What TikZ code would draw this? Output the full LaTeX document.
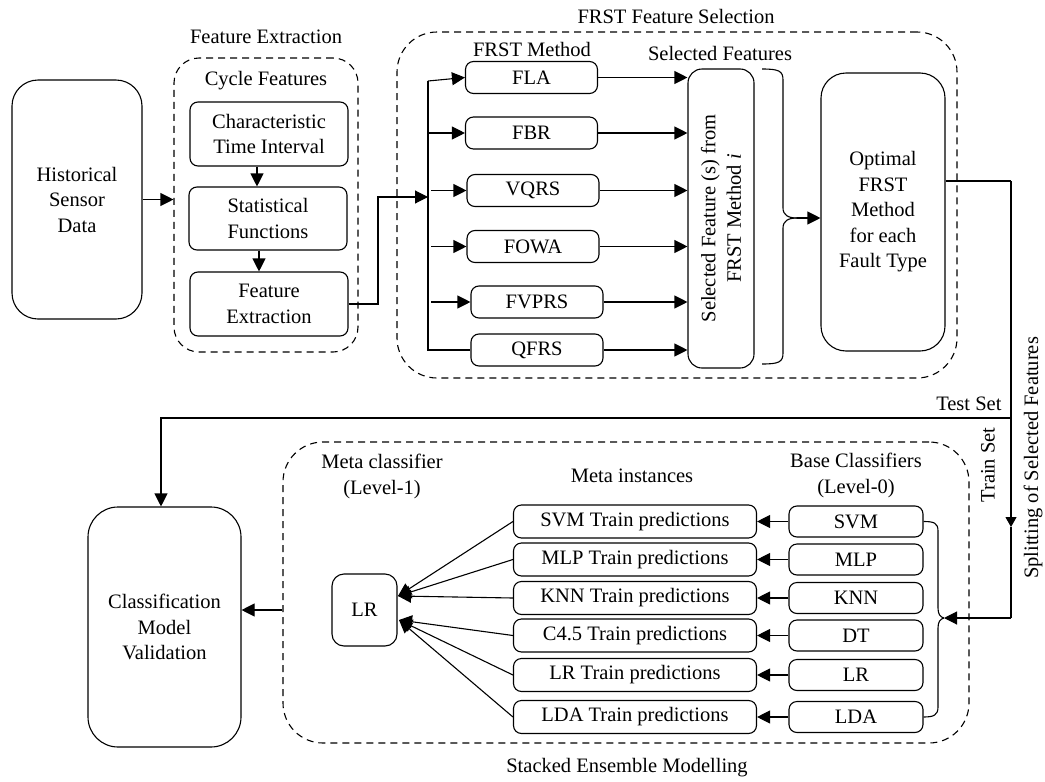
\documentclass[tikz,border=0pt]{standalone}
\usepackage{fontspec}
\setmainfont{Liberation Serif}
\usetikzlibrary{arrows.meta,calc}
\begin{document}
\begin{tikzpicture}[x=1pt,y=-1pt,
  font=\fontsize{20.5}{25.5}\selectfont,
  line width=1.1pt,
  box/.style={draw,rounded corners=8pt,inner sep=0pt,align=center},
  dbox/.style={draw,dash pattern=on 7pt off 5pt,rounded corners=#1,inner sep=0pt},
  lab/.style={inner sep=0pt,align=center},
  arr/.style={-{Triangle[length=13pt,width=13pt]}},
  sarr/.style={-{Triangle[length=10pt,width=11pt]}},
  mbox/.style={box,minimum width=132pt,minimum height=32pt},
  pbox/.style={box,minimum width=243pt,minimum height=33pt},
  bbox/.style={box,minimum width=134pt,minimum height=31pt},
]
\useasboundingbox (0,0) rectangle (1045,782);

% ---------- Feature extraction ----------
\node[box,rounded corners=26pt,minimum width=130pt,minimum height=239pt] (hist) at (77,199.5) {Historical\\Sensor\\Data};
\node[dbox=25pt,minimum width=184pt,minimum height=294pt] (fedash) at (266,205) {};
\node[lab] (fetitle) at (266,37) {Feature Extraction};
\node[lab] (cycle) at (266,81) {Cycle Features};
\node[box,minimum width=158pt,minimum height=64pt] (cti) at (269,134) {Characteristic\\Time Interval};
\node[box,minimum width=158pt,minimum height=63pt] (sf) at (268,218.5) {Statistical\\Functions};
\node[box,minimum width=158pt,minimum height=64pt] (fe) at (269,304) {Feature\\Extraction};
\draw[arr] (hist.east) -- (hist.east -| fedash.west);
\draw[arr] ([xshift=-12pt]cti.south) -- ([xshift=-11pt]sf.north);
\draw[arr] ([xshift=-9pt]sf.south) -- ([xshift=-10pt]fe.north);

% ---------- FRST feature selection ----------
\node[dbox=40pt,minimum width=560pt,minimum height=346pt] (frdash) at (677,205) {};
\node[lab] (frtitle) at (676,16) {FRST Feature Selection};
\node[lab] (mtitle) at (532,49) {FRST Method};
\node[lab] (stitle) at (720,53) {Selected Features};
\node[mbox] (fla) at (531.5,77.5) {FLA};
\node[mbox] (fbr) at (531.5,133) {FBR};
\node[mbox] (vqrs) at (533,190.5) {VQRS};
\node[mbox] (fowa) at (533,246.5) {FOWA};
\node[mbox] (fvprs) at (537,302) {FVPRS};
\node[mbox] (qfrs) at (537,350) {QFRS};
\node[box,rounded corners=14pt,minimum width=66pt,minimum height=299pt] (sel) at (721,218.5) {};
\node[lab,rotate=90] (seltext) at (sel.center) {Selected Feature (s) from\\FRST Method \textit{i}};

\coordinate (busT) at (428,81);
\coordinate (busB) at (428,350);
\coordinate (busIn) at (428,197);
\draw[arr] (fe.east) -| (378,197) -- (busIn);
\draw (busT) -- (busB) -- (qfrs.west);
\draw[arr] (busT) -- (fla.west);
\draw[arr] (busT |- fbr.west) -- (fbr.west);
\draw[arr] ($(busT |- vqrs.west)+(3,0)$) -- (vqrs.west);
\draw[arr] ($(busT |- fowa.west)+(3,0)$) -- (fowa.west);
\draw[arr] ($(busT |- fvprs.west)+(3,0)$) -- (fvprs.west);
\foreach \m in {fla,fbr,vqrs,fowa,fvprs,qfrs}
  \draw[arr] (\m.east) -- (\m.east -| sel.west);

\node[box,rounded corners=25pt,minimum width=124pt,minimum height=278pt] (opt) at (883,212) {Optimal\\FRST\\Method\\for each\\Fault Type};
\coordinate (brtip) at (797,218);
\draw (762,69) .. controls (779,69) and (783,71) .. (783,80) -- (783,208) .. controls (783,215) and (788,218) .. (brtip);
\draw (762,364) .. controls (779,364) and (783,362) .. (783,353) -- (783,228) .. controls (783,221) and (788,218) .. (brtip);
\draw[arr] (brtip) -- (brtip -| opt.west);

% ---------- splitting ----------
\coordinate (sp1) at (1011,181);
\coordinate (spArr) at (1011,527);
\coordinate (sp2) at (1011,618);
\coordinate (spTest) at (1011,418);
\coordinate (trTip) at (944,618);
\coordinate (tc) at (161,418);
\draw (opt.east |- sp1) -- (sp1);
\draw[sarr] (sp1) -- (spArr);
\draw (spArr) -- (sp2);
\draw[arr] (sp2) -- (trTip);
\node[lab,anchor=base east] (testlab) at (1002,410) {Test Set};
\node[lab,rotate=90] (trainlab) at (988,465) {Train Set};
\node[lab,rotate=90] (splitlab) at (1033,458) {Splitting of Selected Features};

% ---------- stacked ensemble ----------
\node[dbox=40pt,minimum width=686pt,minimum height=301pt] (stack) at (626,592.5) {};
\node[lab] (sttitle) at (627,768) {Stacked Ensemble Modelling};
\node[lab] (metac) at (382,476.5) {Meta classifier\\(Level-1)};
\node[lab] (metai) at (632,476) {Meta instances};
\node[lab] (basec) at (856,475.5) {Base Classifiers\\(Level-0)};

\node[box,rounded corners=30pt,minimum width=153pt,minimum height=240pt] (class) at (164.5,627) {Classification\\Model\\Validation};
\draw[arr] (spTest) -- (tc) -- (tc |- class.north);

\node[box,rounded corners=12pt,minimum width=65pt,minimum height=72pt] (lrm) at (364.5,610) {LR};
\draw[arr] (stack.west |- lrm.center) -- (class.east |- lrm.center);

\node[pbox] (p1) at (635,521.5) {SVM Train predictions};
\node[pbox] (p2) at (635,559.5) {MLP Train predictions};
\node[pbox] (p3) at (635,598) {KNN Train predictions};
\node[pbox] (p4) at (635,635.5) {C4.5 Train predictions};
\node[pbox] (p5) at (635,675) {LR Train predictions};
\node[pbox] (p6) at (635,717) {LDA Train predictions};

\node[bbox] (b1) at (856,521.5) {SVM};
\node[bbox] (b2) at (856,559.5) {MLP};
\node[bbox] (b3) at (856,598) {KNN};
\node[bbox] (b4) at (856,635.5) {DT};
\node[bbox] (b5) at (856,675) {LR};
\node[bbox] (b6) at (856,717) {LDA};

\foreach \i in {1,...,6}
  \draw[arr] (b\i.west) -- (p\i.east);

\coordinate (lrU) at (398,596);
\coordinate (lrL) at (399,620);
\foreach \i in {1,2,3}
  \draw[arr] (p\i.west) -- (lrU);
\foreach \i in {4,5,6}
  \draw[arr] (p\i.west) -- (lrL);

\draw (b1.east) .. controls (934,521.5) and (938,523) .. (938,531) -- (938,608) .. controls (938,614) and (940,617) .. (trTip);
\draw (b6.east) .. controls (934,717) and (938,715) .. (938,707) -- (938,628) .. controls (938,622) and (940,619) .. (trTip);
\end{tikzpicture}
\end{document}
